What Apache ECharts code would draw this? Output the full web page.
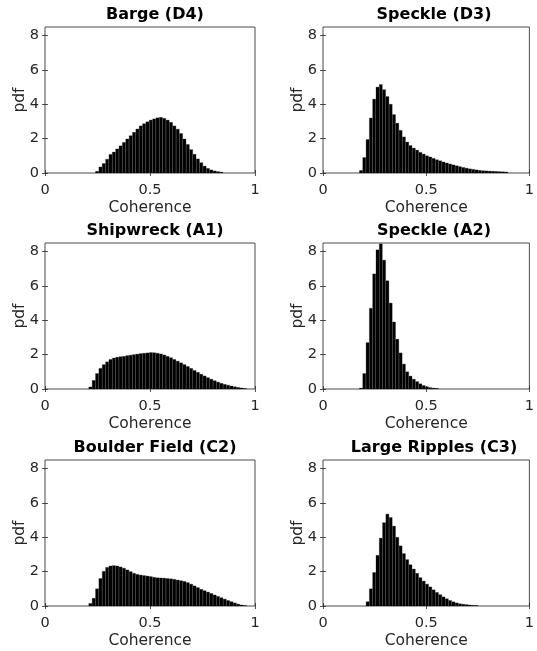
<!DOCTYPE html>
<html>
<head>
<meta charset="utf-8">
<script src="https://cdn.jsdelivr.net/npm/echarts@6/dist/echarts.min.js"></script>
<style>
  html, body { margin: 0; padding: 0; background: #fff; }
  #chart { width: 537px; height: 651px; }
</style>
</head>
<body>
<div id="chart"></div>
<script>
// ---------- data ----------
const binWidth = 0.016;
const panelTitles = ['Barge (D4)', 'Speckle (D3)', 'Shipwreck (A1)', 'Speckle (A2)', 'Boulder Field (C2)', 'Large Ripples (C3)'];
const xTickValues = [0, 0.5, 1];
const yTickValues = [0, 2, 4, 6, 8];
const xAxisName = 'Coherence';
const yAxisName = 'pdf';

// first bin left edge for each panel
const bargeD4Start = 0.240;
const bargeD4 = [0.1, 0.35, 0.55, 0.8, 1.08, 1.22, 1.4, 1.58, 1.78, 1.98, 2.17, 2.37, 2.56, 2.74, 2.87, 2.98, 3.08, 3.15, 3.21, 3.24,
  3.18, 3.08, 2.95, 2.74, 2.55, 2.3, 1.98, 1.66, 1.36, 1.09, 0.82, 0.6, 0.4, 0.27, 0.18, 0.12, 0.08, 0.05];

const speckleD3Start = 0.176;
const speckleD3 = [0.15, 0.9, 1.95, 3.2, 4.3, 5.0, 5.15, 4.85, 4.45, 4.0, 3.4, 2.9, 2.48, 2.1, 1.8, 1.6, 1.45, 1.33, 1.2, 1.1,
  1.0, 0.93, 0.85, 0.77, 0.71, 0.64, 0.58, 0.52, 0.47, 0.42, 0.37, 0.32, 0.28, 0.24, 0.21, 0.18, 0.15, 0.13, 0.12, 0.11,
  0.1, 0.09, 0.08, 0.07, 0.06];

const shipwreckA1Start = 0.208;
const shipwreckA1 = [0.12, 0.5, 0.9, 1.2, 1.42, 1.58, 1.72, 1.8, 1.85, 1.88, 1.9, 1.94, 1.97, 2.0, 2.03, 2.06, 2.08, 2.1, 2.12, 2.11,
  2.08, 2.04, 1.98, 1.9, 1.82, 1.72, 1.62, 1.52, 1.42, 1.31, 1.2, 1.08, 0.97, 0.86, 0.76, 0.66, 0.57, 0.48, 0.4, 0.33,
  0.27, 0.22, 0.17, 0.13, 0.09, 0.06, 0.03];

const speckleA2Start = 0.176;
const speckleA2 = [0.05, 0.9, 2.7, 4.7, 6.7, 8.1, 8.45, 7.5, 6.3, 5.0, 3.9, 2.9, 2.1, 1.45, 1.0, 0.75, 0.57, 0.43, 0.3, 0.2,
  0.13, 0.08, 0.05, 0.03];

const boulderC2Start = 0.208;
const boulderC2 = [0.15, 0.45, 1.0, 1.6, 2.02, 2.25, 2.33, 2.35, 2.33, 2.27, 2.2, 2.1, 2.0, 1.9, 1.84, 1.8, 1.77, 1.74, 1.71, 1.67,
  1.64, 1.63, 1.62, 1.6, 1.58, 1.55, 1.51, 1.47, 1.43, 1.36, 1.27, 1.17, 1.07, 0.97, 0.89, 0.81, 0.73, 0.64, 0.56, 0.48,
  0.4, 0.32, 0.25, 0.18, 0.11, 0.06, 0.03];

const ripplesC3Start = 0.208;
const ripplesC3 = [0.25, 1.0, 1.95, 2.95, 3.95, 4.85, 5.35, 5.15, 4.65, 4.0, 3.5, 3.05, 2.7, 2.4, 2.15, 1.9, 1.65, 1.45, 1.27, 1.11,
  0.94, 0.79, 0.66, 0.53, 0.42, 0.32, 0.24, 0.18, 0.13, 0.1, 0.08, 0.06, 0.04, 0.03];

const panelStarts = [bargeD4Start, speckleD3Start, shipwreckA1Start, speckleA2Start, boulderC2Start, ripplesC3Start];
const panelValues = [bargeD4, speckleD3, shipwreckA1, speckleA2, boulderC2, ripplesC3];

// ---------- layout ----------
const colLeft = [45, 323];
const colWidth = [210, 212];
const rowTop = [27, 243, 460];
const rowHeight = 146;
const FONT = 'DejaVu Sans, sans-serif';
const AXIS_COLOR = '#262626';

function binsFor(start, values) {
  return values.map((v, i) => {
    const x0 = start + i * binWidth;
    return [x0, x0 + binWidth, v];
  });
}

const grids = [], xAxes = [], yAxes = [], series = [], titles = [];
for (let p = 0; p < 6; p++) {
  const col = p % 2, row = Math.floor(p / 2);
  grids.push({
    left: colLeft[col], top: rowTop[row], width: colWidth[col], height: rowHeight,
    show: true, borderColor: '#4a4a4a', borderWidth: 1, backgroundColor: '#fff', containLabel: false
  });
  const tick = { show: true, inside: true, length: 3, lineStyle: { color: AXIS_COLOR, width: 0.8 } };
  xAxes.push({
    gridIndex: p, type: 'value', min: 0, max: 1, interval: 0.5, position: 'bottom',
    name: xAxisName, nameLocation: 'middle', nameGap: 27, nameMoveOverlap: false,
    nameTextStyle: { fontFamily: FONT, fontSize: 15.5, color: AXIS_COLOR },
    axisLine: { show: false },
    axisTick: Object.assign({ customValues: xTickValues }, tick),
    axisLabel: { customValues: xTickValues, fontFamily: FONT, fontSize: 14.5, color: AXIS_COLOR, margin: 10 },
    splitLine: { show: false }
  });
  xAxes.push({
    gridIndex: p, type: 'value', min: 0, max: 1, interval: 0.5, position: 'top',
    axisLine: { show: false }, axisTick: Object.assign({ customValues: xTickValues }, tick),
    axisLabel: { show: false }, splitLine: { show: false }
  });
  yAxes.push({
    gridIndex: p, type: 'value', min: 0, max: 8.5, interval: 2, position: 'left',
    name: yAxisName, nameLocation: 'middle', nameGap: 17, nameMoveOverlap: false,
    nameTextStyle: { fontFamily: FONT, fontSize: 15.5, color: AXIS_COLOR },
    axisLine: { show: false },
    axisTick: Object.assign({ customValues: yTickValues }, tick),
    axisLabel: { customValues: yTickValues, fontFamily: FONT, fontSize: 14.5, color: AXIS_COLOR, margin: 6 },
    splitLine: { show: false }
  });
  yAxes.push({
    gridIndex: p, type: 'value', min: 0, max: 8.5, interval: 2, position: 'right',
    axisLine: { show: false }, axisTick: Object.assign({ customValues: yTickValues }, tick),
    axisLabel: { show: false }, splitLine: { show: false }
  });
  titles.push({
    text: panelTitles[p], left: colLeft[col] + colWidth[col] / 2, top: rowTop[row] - 25, textAlign: 'center',
    textStyle: { fontFamily: FONT, fontSize: 16, fontWeight: 'bold', color: '#000' }
  });
  series.push({
    type: 'custom', xAxisIndex: 2 * p, yAxisIndex: 2 * p, clip: true,
    data: binsFor(panelStarts[p], panelValues[p]),
    renderItem: function (params, api) {
      const a = api.coord([api.value(0), api.value(2)]);
      const b = api.coord([api.value(1), 0]);
      return {
        type: 'rect',
        shape: { x: a[0] + 0.15, y: a[1], width: Math.max(0.5, b[0] - a[0] - 0.3), height: b[1] - a[1] },
        style: { fill: '#000', stroke: '#1a1a1a', lineWidth: 0.3 }
      };
    }
  });
}

const chart = echarts.init(document.getElementById('chart'), null, { renderer: 'canvas' });
chart.setOption({
  animation: false,
  backgroundColor: '#fff',
  title: titles,
  grid: grids,
  xAxis: xAxes,
  yAxis: yAxes,
  series: series
});
</script>
</body>
</html>
